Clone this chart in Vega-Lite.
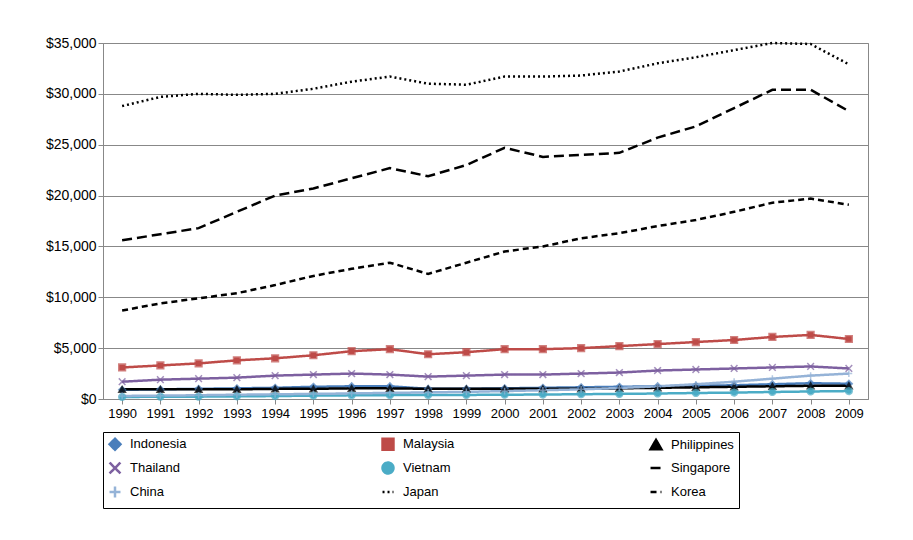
{
"$schema":"https://vega.github.io/schema/vega-lite/v6.json",
"width":765,"height":356,
"padding":{"left":45,"top":36,"right":5,"bottom":0},
"config":{"view":{"stroke":"#888"},"font":"Liberation Sans"},
"data":{"values":[
{"c":"Japan","v":[28800,29700,30000,29900,30000,30500,31200,31700,31000,30900,31700,31700,31800,32200,33000,33600,34300,35000,34900,32900]},
{"c":"Singapore","v":[15600,16200,16800,18400,20000,20700,21700,22700,21900,23000,24700,23800,24000,24200,25700,26800,28600,30400,30400,28300]},
{"c":"Korea","v":[8700,9400,9900,10400,11200,12100,12800,13400,12300,13400,14500,15000,15800,16300,17000,17600,18400,19300,19700,19100]},
{"c":"Malaysia","v":[3100,3300,3500,3800,4000,4300,4700,4900,4400,4600,4900,4900,5000,5200,5400,5600,5800,6100,6300,5900]},
{"c":"Thailand","v":[1700,1900,2000,2100,2300,2400,2500,2400,2200,2300,2400,2400,2500,2600,2800,2900,3000,3100,3200,3000]},
{"c":"Indonesia","v":[900,950,1000,1050,1100,1200,1250,1250,1000,1000,1050,1100,1150,1200,1250,1300,1350,1450,1550,1500]},
{"c":"Philippines","v":[950,950,950,950,1000,1000,1050,1050,1000,1000,1000,1000,1000,1050,1100,1150,1200,1250,1300,1300]},
{"c":"Vietnam","v":[200,220,230,260,290,330,360,380,390,400,420,440,470,500,540,590,630,690,740,780]},
{"c":"China","v":[300,330,370,420,460,500,550,600,650,700,780,860,950,1080,1250,1450,1700,2000,2300,2500]}
]},
"transform":[
{"flatten":["v"]},
{"window":[{"op":"row_number","as":"i"}],"groupby":["c"]},
{"calculate":"1989+datum.i","as":"year"}
],
"encoding":{
"x":{"field":"year","type":"ordinal","title":null,"scale":{"paddingOuter":0.3},"axis":{"labelAngle":0,"labelFontSize":13,"labelPadding":3,"ticks":true,"domainColor":"#888","tickColor":"#888","labelColor":"#000"}},
"y":{"field":"v","type":"quantitative","title":null,"scale":{"domain":[0,35000]},"axis":{"format":"$,d","tickCount":7,"labelFontSize":14,"labelColor":"#000","gridColor":"#888","domainColor":"#888","tickColor":"#888"}},
"color":{"field":"c","type":"nominal","title":null,
"scale":{"domain":["Indonesia","Malaysia","Philippines","Thailand","Vietnam","Singapore","China","Japan","Korea"],
"range":["#4a7ebb","#be4b48","#000000","#7d60a0","#4bacc6","#000000","#95b3d7","#000000","#000000"]},
"legend":{"orient":"bottom","columns":3,"columnPadding":190,"rowPadding":2,"labelFontSize":13,"labelColor":"#000","symbolSize":120,"symbolStrokeWidth":2.5,"strokeColor":"#000","padding":5,"offset":12,"labelLimit":200,"labelOffset":8}},
"strokeDash":{"field":"c","type":"nominal","title":null,
"scale":{"domain":["Indonesia","Malaysia","Philippines","Thailand","Vietnam","Singapore","China","Japan","Korea"],
"range":[[1,0],[1,0],[1,0],[1,0],[1,0],[10,5],[1,0],[2,3],[6,4]]}},
"shape":{"field":"c","type":"nominal","title":null,
"scale":{"domain":["Indonesia","Malaysia","Philippines","Thailand","Vietnam","Singapore","China","Japan","Korea"],
"range":["diamond","square","triangle-up","M-1,-1L1,1M1,-1L-1,1","circle","stroke","M-1,0L1,0M0,-1L0,1","stroke","stroke"]}}
},
"layer":[
{"mark":{"type":"line","strokeWidth":2.5}},
{"transform":[{"filter":"indexof(['Singapore','Japan','Korea'],datum.c)<0"}],
 "mark":{"type":"point","filled":true,"size":45,"strokeWidth":1.5},
 "encoding":{"stroke":{"field":"c","type":"nominal","legend":null,"scale":{"domain":["Indonesia","Malaysia","Philippines","Thailand","Vietnam","Singapore","China","Japan","Korea"],"range":["#4a7ebb","#be4b48","#000000","#7d60a0","#4bacc6","#000000","#95b3d7","#000000","#000000"]}}}}
]
}
